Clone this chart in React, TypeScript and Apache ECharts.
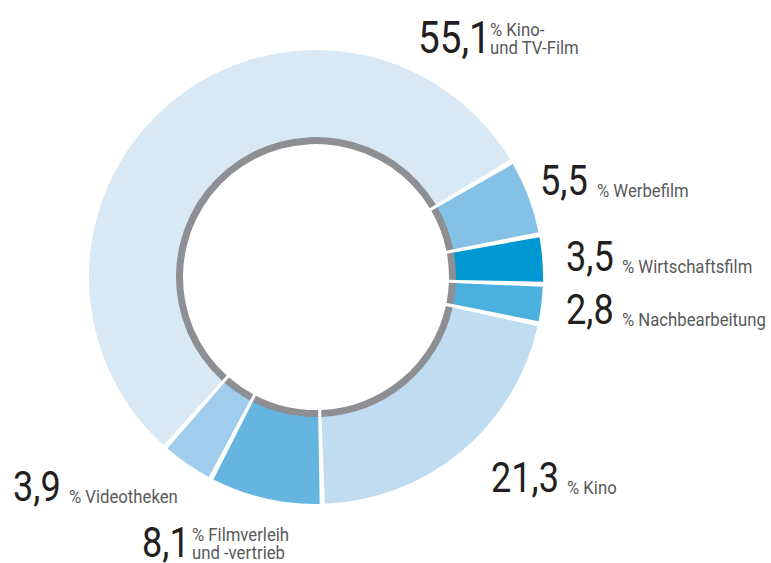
import React, { useEffect, useRef } from "react";
import * as echarts from "echarts";

const categories = [
  "Kino- und TV-Film",
  "Werbefilm",
  "Wirtschaftsfilm",
  "Nachbearbeitung",
  "Kino",
  "Filmverleih und -vertrieb",
  "Videotheken",
];
const values = [55.1, 5.5, 3.5, 2.8, 21.3, 8.1, 3.9];
const labelLines = [
  ["% Kino-", "und TV-Film"],
  ["% Werbefilm"],
  ["% Wirtschaftsfilm"],
  ["% Nachbearbeitung"],
  ["% Kino"],
  ["% Filmverleih", "und -vertrieb"],
  ["% Videotheken"],
];

const colors = ["#d8e9f5", "#85c1e6", "#0098d2", "#4cb0de", "#c0dcf1", "#66b5e0", "#9fcdeb"];
// label layout: [numberX, baseline, textX, numberFontSize]
const labelPos = [
  [418, 53, 490, 45],
  [540, 196, 597, 42],
  [566, 272, 622, 42],
  [566, 325, 622, 42],
  [491, 493, 567, 42],
  [142, 558, 192, 42],
  [13, 502, 69, 42],
];

const FONT = "Roboto, 'Liberation Sans', sans-serif";

export default function App() {
  const ref = useRef<HTMLDivElement>(null);
  useEffect(() => {
    const chart = echarts.init(ref.current!, null, { renderer: "svg" });
    const total = values.reduce((a, b) => a + b, 0);
    const startAngle = 30.5 + (values[0] / total) * 360;
    const data = values.map((v, i) => ({ name: categories[i], value: v, itemStyle: { color: colors[i] } }));
    const grayData = values.map((v, i) => ({ name: categories[i], value: v }));

    const graphics: any[] = [];
    values.forEach((v, i) => {
      const [nx, base, tx, fs] = labelPos[i];
      graphics.push({
        type: "text",
        x: nx,
        y: base - fs * 0.35,
        scaleX: 0.86,
        style: {
          text: v.toFixed(1).replace(".", ","),
          fontFamily: FONT,
          fontSize: fs,
          lineHeight: Math.round(fs * 0.62),
          fill: "#231f20",
          align: "left",
          verticalAlign: "middle",
        },
      });
      const lines = labelLines[i];
      const sfs = 19;
      lines.forEach((ln, j) => {
        const b = base - (lines.length - 1 - j) * 17.5;
        graphics.push({
          type: "text",
          x: tx,
          y: b - sfs * 0.33,
          scaleX: 0.88,
          style: {
            text: ln,
            fontFamily: FONT,
            fontSize: sfs,
            lineHeight: 16,
            fill: "#58595b",
            align: "left",
            verticalAlign: "middle",
          },
        });
      });
    });

    chart.setOption({
      animation: false,
      series: [
        {
          type: "pie",
          center: [316, 277],
          radius: [139, 227],
          startAngle,
          clockwise: true,
          padAngle: 1.3,
          label: { show: false },
          labelLine: { show: false },
          emphasis: { disabled: true },
          silent: true,
          data,
        },
        {
          type: "pie",
          center: [316, 277],
          radius: [133, 140],
          startAngle,
          clockwise: true,
          padAngle: 1.3,
          label: { show: false },
          labelLine: { show: false },
          emphasis: { disabled: true },
          silent: true,
          itemStyle: { color: "#8d8f92" },
          data: grayData,
        },
      ],
      graphic: graphics,
    });
    return () => chart.dispose();
  }, []);
  return (
    <div
      ref={ref}
      style={{ position: "absolute", left: 0, top: 0, width: 771, height: 563, background: "#fff" }}
    />
  );
}
